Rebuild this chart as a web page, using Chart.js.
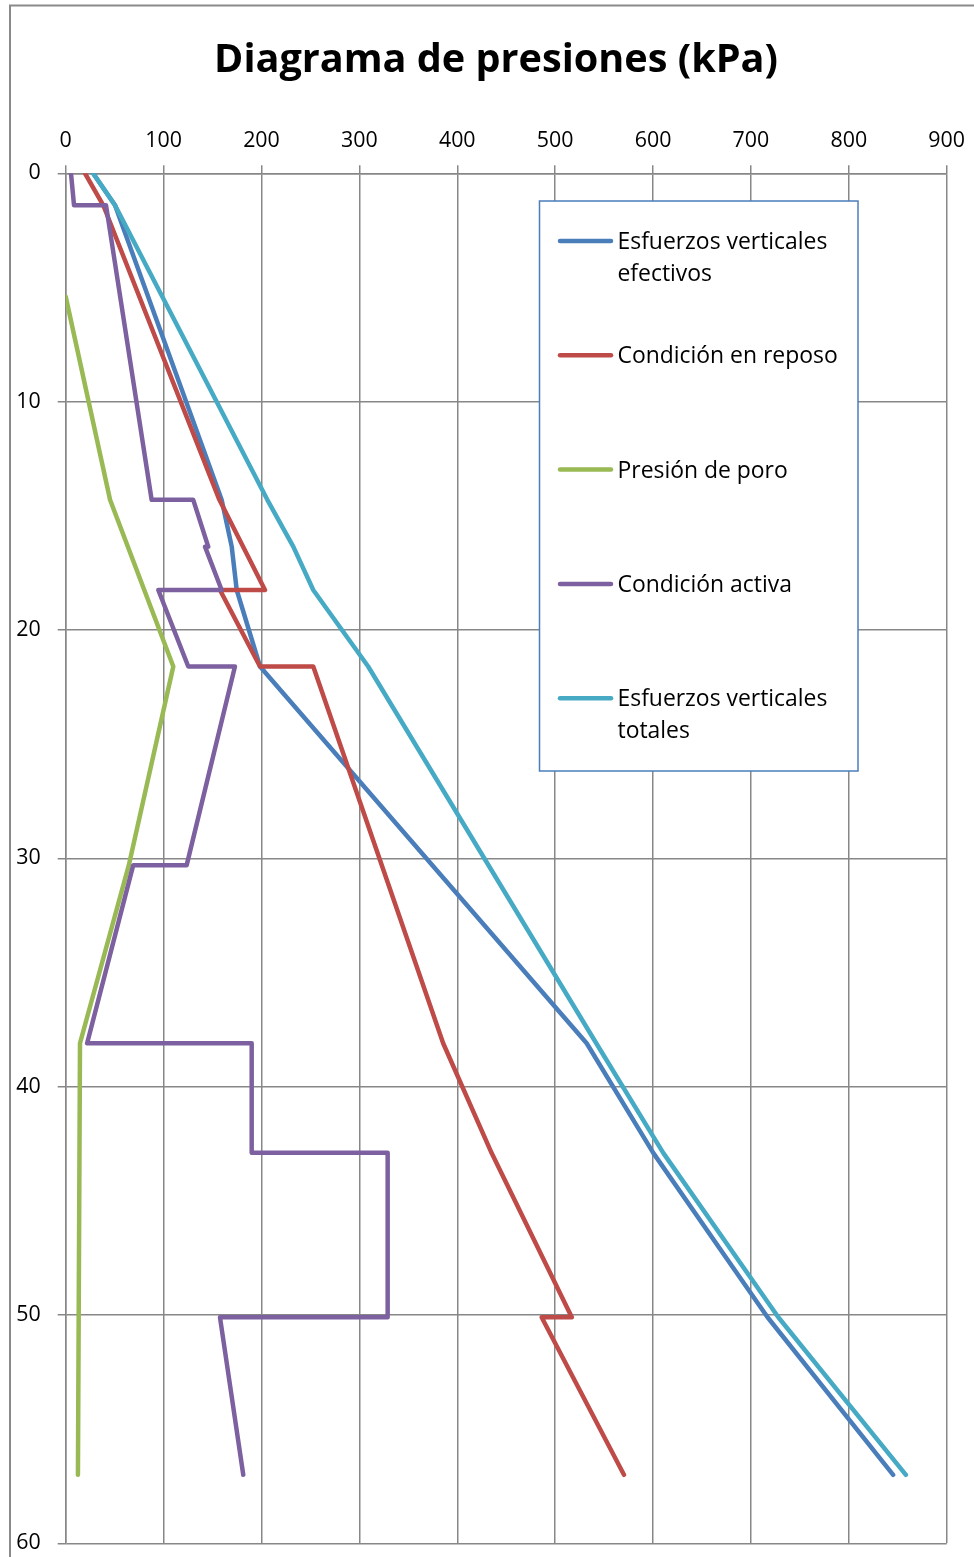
<!DOCTYPE html>
<html>
<head>
<meta charset="utf-8">
<script src="https://cdn.jsdelivr.net/npm/chart.js@4.4.1/dist/chart.umd.min.js"></script>
<style>
html,body{margin:0;padding:0;background:#fff;}
#wrap{width:974px;height:1557px;position:relative;}
</style>
</head>
<body>
<div id="wrap"><canvas id="c" width="974" height="1557"></canvas></div>
<script>
// ---------- data ----------
const chartTitle = 'Diagrama de presiones (kPa)';
const xTicks = [0, 100, 200, 300, 400, 500, 600, 700, 800, 900];
const yTicks = [0, 10, 20, 30, 40, 50, 60];
const seriesNames = [
  'Esfuerzos verticales efectivos',
  'Condición en reposo',
  'Presión de poro',
  'Condición activa',
  'Esfuerzos verticales totales'
];

// Esfuerzos verticales efectivos
const efectivosX = [28, 50.4, 159.3, 169.6, 174.7, 198.5, 532.2, 600.2, 717, 845.3];
const efectivosY = [0, 1.4, 14.3, 16.35, 18.25, 21.6, 38.1, 42.9, 50.1, 57];

// Condición en reposo
const reposoX = [19.7, 38.4, 157, 203.6, 157.6, 198.5, 252.9, 385.6, 435, 517, 486.2, 570.3];
const reposoY = [0, 1.4, 14.3, 18.25, 18.25, 21.6, 21.6, 38.1, 42.9, 50.1, 50.1, 57];

// Presión de poro
const poroX = [0, 45.3, 109.9, 64.5, 14.6, 12.5];
const poroY = [5.4, 14.3, 21.6, 30.3, 38.1, 57];

// Condición activa
const activaX = [5.4, 8.5, 41.2, 87.8, 130.3, 145.6, 142.3, 159.3, 94.6, 125.2, 172.9, 123.6, 69.0, 21.9, 190, 190, 328.9, 328.9, 157.6, 181.4];
const activaY = [0, 1.4, 1.4, 14.3, 14.3, 16.35, 16.35, 18.25, 18.25, 21.6, 21.6, 30.3, 30.3, 38.1, 38.1, 42.9, 42.9, 50.1, 50.1, 57];

// Esfuerzos verticales totales
const totalesX = [28, 50.4, 206, 232.5, 252.9, 309, 542, 610.4, 728, 858.3];
const totalesY = [0, 1.4, 14.3, 16.35, 18.25, 21.6, 38.1, 42.9, 50.1, 57];

const seriesColors = ['#4A7EBB', '#BE4B48', '#98B954', '#7D60A0', '#46AAC5'];

// ---------- helpers ----------
const FAMILY = "'Open Sans', 'DejaVu Sans', sans-serif";
const mctx = document.createElement('canvas').getContext('2d');
function fitSize(text, weight, target) {
  mctx.font = weight + ' 100px ' + FAMILY;
  return 100 * target / mctx.measureText(text).width;
}
const tickSize = fitSize('900', 'normal', 36.7);
const legendSize = fitSize('Esfuerzos verticales', 'normal', 210);
const titleSize = fitSize(chartTitle, 'bold', 564);

function pts(xs, ys) { return xs.map((x, i) => ({x: x, y: ys[i]})); }
const allX = [efectivosX, reposoX, poroX, activaX, totalesX];
const allY = [efectivosY, reposoY, poroY, activaY, totalesY];

const datasets = seriesNames.map((name, i) => ({
  label: name,
  data: pts(allX[i], allY[i]),
  showLine: true,
  borderColor: seriesColors[i],
  backgroundColor: seriesColors[i],
  borderWidth: 4.5,
  borderCapStyle: 'round',
  borderJoinStyle: 'round',
  pointRadius: 0,
  pointHoverRadius: 0,
  fill: false,
  tension: 0,
  order: 4 - i
}));

const GRID = '#878787';

const decor = {
  id: 'decor',
  beforeDraw(chart) {
    const ctx = chart.ctx;
    ctx.save();
    ctx.fillStyle = '#fff';
    ctx.fillRect(0, 0, chart.width, chart.height);
    ctx.strokeStyle = '#8a8a8a';
    ctx.lineWidth = 2;
    ctx.strokeRect(10, 5.5, 1200, 1800);
    // title
    ctx.fillStyle = '#000';
    ctx.font = 'bold ' + titleSize + 'px ' + FAMILY;
    ctx.textAlign = 'center';
    ctx.textBaseline = 'alphabetic';
    ctx.fillText(chartTitle, 496, 72);
    ctx.restore();
  },
  afterDraw(chart) {
    const ctx = chart.ctx;
    ctx.save();
    // legend box
    ctx.fillStyle = '#fff';
    ctx.fillRect(539.5, 201, 318.5, 570);
    ctx.strokeStyle = '#4A7EBB';
    ctx.lineWidth = 1.5;
    ctx.strokeRect(539.5, 201, 318.5, 570);
    ctx.font = legendSize + 'px ' + FAMILY;
    ctx.textAlign = 'left';
    ctx.textBaseline = 'alphabetic';
    const capH = legendSize * 0.714;
    const lineH = 31.5;
    const maxW = 236;
    chart.data.datasets.forEach((ds, i) => {
      const cy = 241 + i * 114.3;
      ctx.strokeStyle = ds.borderColor;
      ctx.lineWidth = 4.5;
      ctx.lineCap = 'round';
      ctx.beginPath();
      ctx.moveTo(560, cy);
      ctx.lineTo(611, cy);
      ctx.stroke();
      const words = ds.label.split(' ');
      const lines = [];
      let cur = '';
      words.forEach(w => {
        const t = cur ? cur + ' ' + w : w;
        if (ctx.measureText(t).width > maxW && cur) { lines.push(cur); cur = w; }
        else cur = t;
      });
      lines.push(cur);
      ctx.fillStyle = '#000';
      lines.forEach((ln, k) => {
        ctx.fillText(ln, 617.5, cy + capH / 2 + k * lineH);
      });
    });
    ctx.restore();
  }
};

new Chart(document.getElementById('c'), {
  type: 'scatter',
  data: { datasets: datasets },
  options: {
    responsive: false,
    animation: false,
    devicePixelRatio: 1,
    events: [],
    layout: { padding: { top: 0, left: 0, right: 27.3, bottom: 13.7 } },
    plugins: {
      legend: { display: false },
      title: { display: false },
      tooltip: { enabled: false }
    },
    scales: {
      x: {
        type: 'linear',
        position: 'top',
        min: 0,
        max: 900,
        afterBuildTicks(s) { s.ticks = xTicks.map(v => ({ value: v })); },
        afterFit(s) { s.height = 173.3; s.paddingLeft = 0; s.paddingRight = 0; },
        grid: { color: GRID, lineWidth: 1.5, tickLength: 8, drawTicks: true },
        border: { color: GRID, width: 1.5 },
        ticks: { color: '#000', font: { family: FAMILY, size: tickSize }, padding: 12, maxRotation: 0, autoSkip: false }
      },
      y: {
        type: 'linear',
        reverse: true,
        min: 0,
        max: 60,
        afterBuildTicks(s) { s.ticks = yTicks.map(v => ({ value: v })); },
        afterFit(s) { s.width = 65.7; s.paddingTop = 0; s.paddingBottom = 0; },
        grid: { color: GRID, lineWidth: 1.5, tickLength: 8, drawTicks: true },
        border: { color: GRID, width: 1.5 },
        ticks: { color: '#000', font: { family: FAMILY, size: tickSize }, padding: 17, autoSkip: false }
      }
    }
  },
  plugins: [decor]
});
</script>
</body>
</html>
